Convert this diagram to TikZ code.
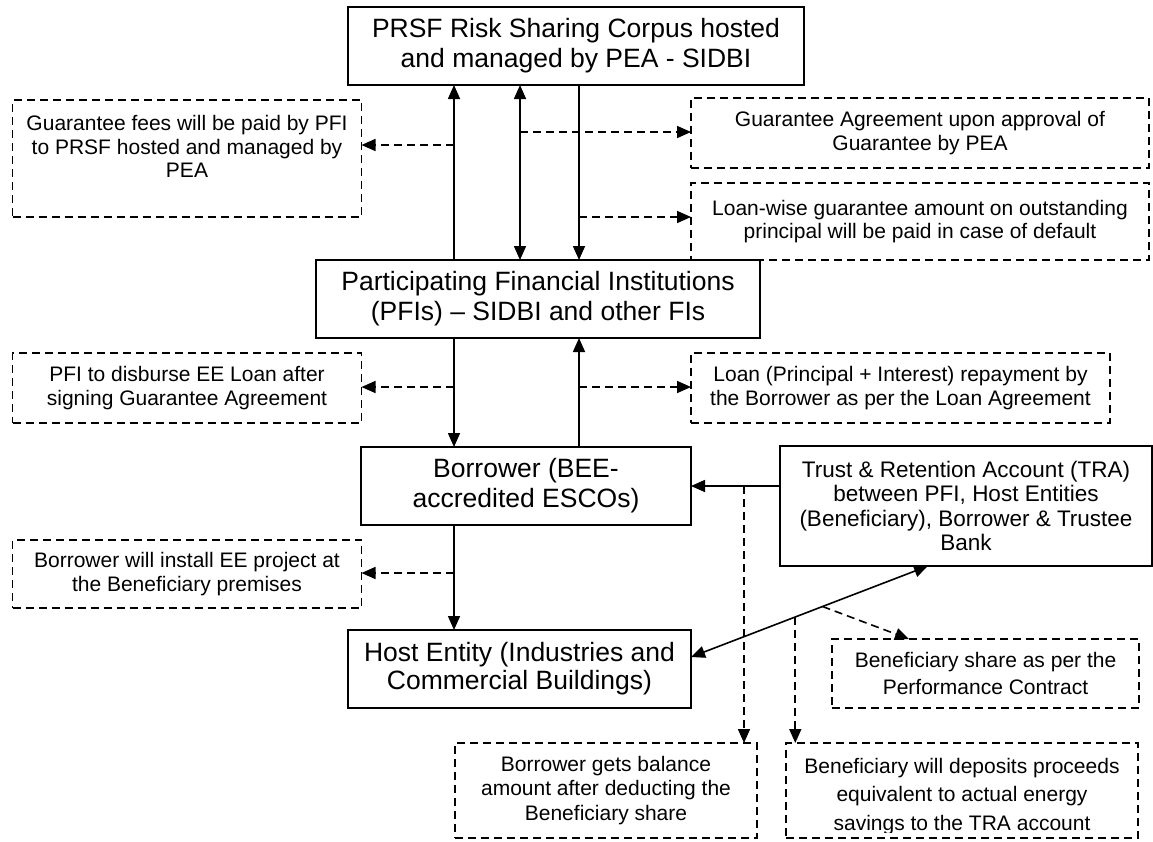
\documentclass[tikz,border=0pt]{standalone}
\usepackage{fontspec}
\setmainfont{Liberation Sans}
\usetikzlibrary{arrows.meta}
\usetikzlibrary{calc}

\begin{document}
\begin{tikzpicture}[x=1pt, y=-1pt, line width=1.6pt,
    mainbox/.style={draw, line width=2pt, inner sep=0pt, outer sep=0pt, align=center,
                    font=\fontsize{26.5}{30}\selectfont},
    notebox/.style={draw, dash pattern=on 8pt off 5pt, line width=1.7pt, inner sep=0pt,
                    outer sep=0pt, align=center, font=\fontsize{21}{23.5}\selectfont},
    flow/.style={-{Triangle[length=14pt,width=12pt]}},
    both/.style={{Triangle[length=14pt,width=12pt]}-{Triangle[length=14pt,width=12pt]}},
    note/.style={-{Triangle[length=14pt,width=12pt]}, dash pattern=on 8pt off 5pt}]

    \useasboundingbox (0,0) rectangle (1153,841);

    % main boxes
    \node[mainbox, minimum width=456pt, minimum height=78pt] (prsf) at (576,46)
        {PRSF Risk Sharing Corpus hosted\\and managed by PEA - SIDBI};
    \node[mainbox, minimum width=444pt, minimum height=78pt] (pfi) at (538,299)
        {Participating Financial Institutions\\(PFIs) -- SIDBI and other FIs};
    \node[mainbox, minimum width=330pt, minimum height=78pt] (borrower) at (526,486)
        {Borrower (BEE-\\accredited ESCOs)};
    \node[mainbox, minimum width=343pt, minimum height=78pt] (host) at (519.5,669) {};
    \begin{scope}
        \clip (host.north west) rectangle ([yshift=11pt]host.south east);
        \node[align=center, font=\fontsize{26.5}{28}\selectfont] (hosttext) at (host.center)
            {Host Entity (Industries and\\Commercial Buildings)};
    \end{scope}
    \node[mainbox, minimum width=372pt, minimum height=120pt,
          font=\fontsize{22.5}{24.5}\selectfont] (tra) at (966,506)
        {Trust \& Retention Account (TRA)\\between PFI, Host Entities\\(Beneficiary), Borrower \& Trustee\\Bank};

    % dashed notes
    \node[notebox, minimum width=349pt, minimum height=117pt] (fees) at (187,158.5)
        {Guarantee fees will be paid by PFI\\to PRSF hosted and managed by\\PEA\\\mbox{}};
    \node[notebox, minimum width=458pt, minimum height=70pt] (agree) at (920,133)
        {Guarantee Agreement upon approval of\\Guarantee by PEA};
    \node[notebox, minimum width=458pt, minimum height=77pt] (payout) at (920,221.5)
        {Loan-wise guarantee amount on outstanding\\principal will be paid in case of default};
    \node[notebox, minimum width=349pt, minimum height=70pt] (disburse) at (187,388)
        {PFI to disburse EE Loan after\\signing Guarantee Agreement};
    \node[notebox, minimum width=419pt, minimum height=70pt] (repay) at (900.5,388)
        {Loan (Principal + Interest) repayment by\\the Borrower as per the Loan Agreement};
    \node[notebox, minimum width=349pt, minimum height=68pt] (install) at (187,574)
        {Borrower will install EE project at\\the Beneficiary premises};
    \node[notebox, minimum width=307pt, minimum height=69pt,
          font=\fontsize{21}{27}\selectfont] (share) at (985.5,673.5)
        {Beneficiary share as per the\\Performance Contract};
    \node[notebox, minimum width=302pt, minimum height=95pt,
          font=\fontsize{21}{24.5}\selectfont] (balance) at (606,790.5)
        {Borrower gets balance\\amount after deducting the\\Beneficiary share};
    \node[notebox, minimum width=352pt, minimum height=95pt] (deposit) at (962,790.5) {};
    \begin{scope}
        \clip (deposit.north west) rectangle ([yshift=6pt]deposit.south east);
        \node[align=center, font=\fontsize{21}{28.5}\selectfont] (deposittext)
            at ([yshift=-6pt]deposit.center)
            {Beneficiary will deposits proceeds\\equivalent to actual energy\\savings to the TRA account};
    \end{scope}

    % columns of the arrows
    \coordinate (xa) at (454,0);
    \coordinate (xb) at (520,0);
    \coordinate (xc) at (579,0);
    \coordinate (xd) at (744,0);
    \coordinate (xe) at (928,0);
    \coordinate (xf) at (909,0);

    % PRSF <-> PFI
    \draw[flow] (pfi.north -| xa) -- (prsf.south -| xa);
    \draw[both] (prsf.south -| xb) -- (pfi.north -| xb);
    \draw[flow] (prsf.south -| xc) -- (pfi.north -| xc);
    \coordinate (fa) at (454,145);
    \draw[note] (fa) -- (fa -| fees.east);
    \coordinate (fb) at (520,132);
    \draw[note] (fb) -- (fb -| agree.west);
    \coordinate (fc) at (579,217);
    \draw[note] (fc) -- (fc -| payout.west);

    % PFI <-> borrower
    \draw[flow] (pfi.south -| xa) -- (borrower.north -| xa);
    \draw[flow] (borrower.north -| xc) -- (pfi.south -| xc);
    \coordinate (fd) at (454,387);
    \draw[note] (fd) -- (fd -| disburse.east);
    \coordinate (fe) at (579,387);
    \draw[note] (fe) -- (fe -| repay.west);

    % borrower -> host
    \draw[flow] (borrower.south -| xa) -- (host.north -| xa);
    \coordinate (ff) at (454,573);
    \draw[note] (ff) -- (ff -| install.east);

    % TRA
    \draw[flow] (borrower.east -| tra.west) -- (borrower.east);
    \draw[note] (borrower.east -| xd) -- (xd |- balance.north);
    \coordinate (h1) at ([yshift=12pt]host.east);
    \coordinate (t1) at (tra.south -| xe);
    \draw[both] (h1) -- (t1);
    \coordinate (d1) at ($(h1)!0.44!(t1)$);
    \draw[note] (d1) -- (d1 |- deposit.north);
    \coordinate (d2) at ($(h1)!0.555!(t1)$);
    \draw[note] (d2) -- (share.north -| xf);
\end{tikzpicture}
\end{document}
